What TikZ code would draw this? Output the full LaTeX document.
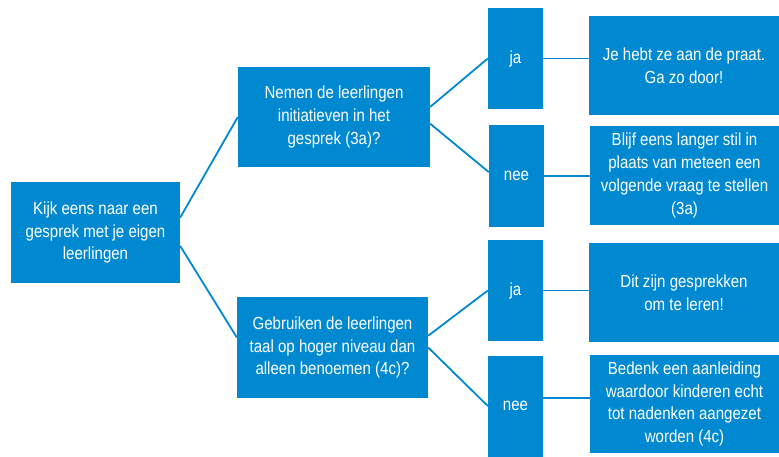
\documentclass[tikz,border=0pt]{standalone}
\usepackage{fontspec}
\setmainfont{Liberation Sans}[FakeStretch=0.86]
\usepackage{xcolor}
\usepackage{tikz}

\definecolor{kaderblauw}{RGB}{0,137,208}

\begin{document}
\begin{tikzpicture}[x=1pt,y=-1pt,
             vak/.style={fill=kaderblauw, text=white, align=center, inner sep=0pt,
                         font=\fontsize{17.5}{22.7}\selectfont},
             lijn/.style={draw=kaderblauw, line width=1.8pt}]
             \useasboundingbox (0,0) rectangle (779,457);

             % vragen
             \node[vak, minimum width=169pt, minimum height=101pt] (start) at (95.5, 232.5) {Kijk eens naar een\\gesprek met je eigen\\leerlingen};
             \node[vak, minimum width=192pt, minimum height=100pt] (vraag1) at (334, 117) {Nemen de leerlingen\\initiatieven in het\\gesprek (3a)?};
             \node[vak, minimum width=191pt, minimum height=101pt] (vraag2) at (332.5, 347.5) {Gebruiken de leerlingen\\taal op hoger niveau dan\\alleen benoemen (4c)?};

             % ja / nee
             \node[vak, minimum width=55pt, minimum height=101pt] (ja1) at (515.5, 58.5) {ja};
             \node[vak, minimum width=55pt, minimum height=102pt] (nee1) at (516.5, 176) {nee};
             \node[vak, minimum width=55pt, minimum height=101pt] (ja2) at (515.5, 290.5) {ja};
             \node[vak, minimum width=55pt, minimum height=101pt] (nee2) at (515.5, 406) {nee};

             % antwoorden
             \node[vak, minimum width=190pt, minimum height=99pt] (antw1) at (684, 65.5) {Je hebt ze aan de praat.\\Ga zo door!};
             \node[vak, minimum width=189pt, minimum height=99pt] (antw2) at (684.5, 175.5) {Blijf eens langer stil in\\plaats van meteen een\\volgende vraag te stellen\\(3a)};
             \node[vak, minimum width=190pt, minimum height=99pt] (antw3) at (684, 292.5) {Dit zijn gesprekken\\om te leren!};
             \node[vak, minimum width=189pt, minimum height=98pt] (antw4) at (684.5, 404) {Bedenk een aanleiding\\waardoor kinderen echt\\tot nadenken aangezet\\worden (4c)};

             \draw[lijn] (start.10) -- (vraag1.west);
             \draw[lijn] (start.-9) -- (vraag2.174);

             \draw[lijn] (vraag1.6) -- (ja1.west);
             \draw[lijn] (vraag1.-4) -- (nee1.172);
             \draw[lijn] (vraag2.7) -- (ja2.west);
             \draw[lijn] (vraag2.east) -- (nee2.west);

             \draw[lijn] (ja1.east) -- (ja1.east -| antw1.west);
             \draw[lijn] (nee1.east) -- (nee1.east -| antw2.west);
             \draw[lijn] (ja2.east) -- (ja2.east -| antw3.west);
             \draw[lijn] (nee2.16) -- (nee2.16 -| antw4.west);
             \end{tikzpicture}
\end{document}
